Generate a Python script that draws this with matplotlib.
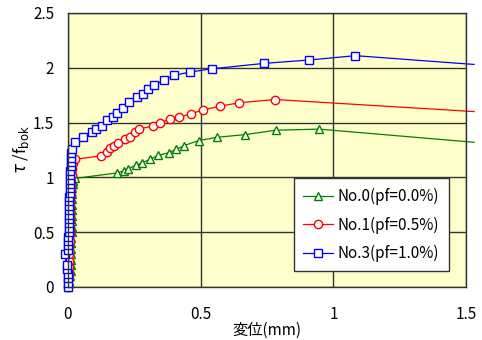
import matplotlib
matplotlib.use('Agg')
import matplotlib.pyplot as plt

plt.rcParams['font.family'] = ['Noto Sans CJK JP', 'DejaVu Sans']
plt.rcParams['mathtext.fontset'] = 'dejavusans'

# No.0 (pf=0.0%)
x0 = [0.0, 0.004, 0.008, 0.010, 0.011, 0.012, 0.012, 0.013, 0.013, 0.013, 0.014, 0.014,
      0.014, 0.015, 0.015, 0.015, 0.016, 0.016, 0.017, 0.018, 0.020, 0.026,
      0.184, 0.213, 0.228, 0.255, 0.278, 0.309, 0.341, 0.379, 0.408, 0.438, 0.492,
      0.561, 0.668, 0.784, 0.945, 1.53]
y0 = [0.0, 0.05, 0.10, 0.15, 0.20, 0.25, 0.30, 0.35, 0.40, 0.45, 0.50, 0.55,
      0.60, 0.65, 0.70, 0.75, 0.80, 0.85, 0.90, 0.94, 0.97, 0.99,
      1.04, 1.06, 1.08, 1.11, 1.13, 1.165, 1.20, 1.225, 1.255, 1.29, 1.335,
      1.365, 1.39, 1.43, 1.44, 1.32]

# No.1 (pf=0.5%)
x1 = [0.0, 0.002, 0.003, 0.004, 0.004, 0.005, 0.005, 0.006, 0.006, 0.007, 0.007, 0.008,
      0.008, 0.009, 0.010, 0.011, 0.012, 0.014, 0.016, 0.020, 0.026,
      0.123, 0.146, 0.158, 0.174, 0.190, 0.215, 0.234, 0.253, 0.268, 0.322, 0.347,
      0.385, 0.420, 0.464, 0.508, 0.574, 0.645, 0.780, 1.53]
y1 = [0.0, 0.06, 0.12, 0.18, 0.24, 0.30, 0.36, 0.42, 0.48, 0.54, 0.60, 0.66,
      0.72, 0.78, 0.84, 0.90, 0.96, 1.02, 1.08, 1.13, 1.165,
      1.195, 1.23, 1.265, 1.29, 1.31, 1.35, 1.37, 1.41, 1.44, 1.47, 1.50,
      1.53, 1.55, 1.58, 1.615, 1.65, 1.68, 1.71, 1.60]

# No.3 (pf=1.0%)
x3 = [0.0, 0.0, 0.001, 0.0, -0.002, -0.003, -0.010, 0.001, 0.002, 0.002, 0.002, 0.003,
      0.003, 0.003, 0.004, 0.004, 0.004, 0.005, 0.005, 0.005, 0.006, 0.006, 0.007,
      0.007, 0.008, 0.009, 0.010, 0.011, 0.012, 0.013, 0.014, 0.026,
      0.058, 0.089, 0.106, 0.127, 0.148, 0.169, 0.186, 0.206, 0.229, 0.259, 0.284,
      0.303, 0.325, 0.362, 0.400, 0.458, 0.542, 0.740, 0.907, 1.083, 1.53]
y3 = [0.0, 0.04, 0.08, 0.12, 0.16, 0.20, 0.30, 0.34, 0.38, 0.42, 0.46, 0.50,
      0.54, 0.58, 0.62, 0.66, 0.70, 0.74, 0.78, 0.82, 0.86, 0.90, 0.94,
      0.98, 1.02, 1.06, 1.10, 1.14, 1.18, 1.22, 1.26, 1.32,
      1.37, 1.41, 1.44, 1.47, 1.52, 1.55, 1.59, 1.63, 1.69, 1.73, 1.76,
      1.81, 1.84, 1.89, 1.93, 1.96, 1.99, 2.04, 2.07, 2.11, 2.03]

labels = ['No.0(pf=0.0%)', 'No.1(pf=0.5%)', 'No.3(pf=1.0%)']
x_ticks = [0, 0.5, 1, 1.5]
x_tick_labels = ['0', '0.5', '1', '1.5']
y_ticks = [0, 0.5, 1, 1.5, 2, 2.5]
y_tick_labels = ['0', '0.5', '1', '1.5', '2', '2.5']

fig = plt.figure(figsize=(4.82, 3.40), dpi=100)
ax = fig.add_axes([0.141, 0.156, 0.826, 0.806])
ax.set_facecolor('#FFFFCC')

# last point of each series is a line end only, no marker
series = [(x0, y0, '^', '#008000'), (x1, y1, 'o', '#FF0000'), (x3, y3, 's', '#0000FF')]
for (xs, ys, mk, c), lab in zip(series, labels):
    ax.plot(xs, ys, '-', marker=mk, color=c, lw=0.9, markersize=6, markerfacecolor='white',
            markeredgecolor=c, markeredgewidth=1, markevery=slice(0, len(xs) - 1),
            clip_on=False, label=lab)

ax.set_xlim(0, 1.5)
ax.set_ylim(0, 2.5)
ax.set_xticks(x_ticks)
ax.set_xticklabels(x_tick_labels)
ax.set_yticks(y_ticks)
ax.set_yticklabels(y_tick_labels)
ax.tick_params(axis='x', length=0, pad=14, labelsize=11)
ax.tick_params(axis='y', length=0, pad=10, labelsize=11)
ax.grid(True, color='#333333', lw=1)
ax.set_axisbelow(True)
for s in ax.spines.values():
    s.set_color('#333333')
    s.set_linewidth(1)

ax.set_xlabel('変位(mm)', fontsize=11, labelpad=-1)
ax.set_ylabel(r'$\tau$ /f$_{\mathrm{bok}}$', fontsize=12, labelpad=1)

leg = ax.legend(loc='lower right', bbox_to_anchor=(0.975, 0.029), fontsize=11,
                fancybox=False, framealpha=1, edgecolor='#333333', borderpad=0.6,
                labelspacing=0.75, handlelength=2.0, handletextpad=0.3)
leg.get_frame().set_linewidth(1)

fig.savefig('out.png', dpi=100)
